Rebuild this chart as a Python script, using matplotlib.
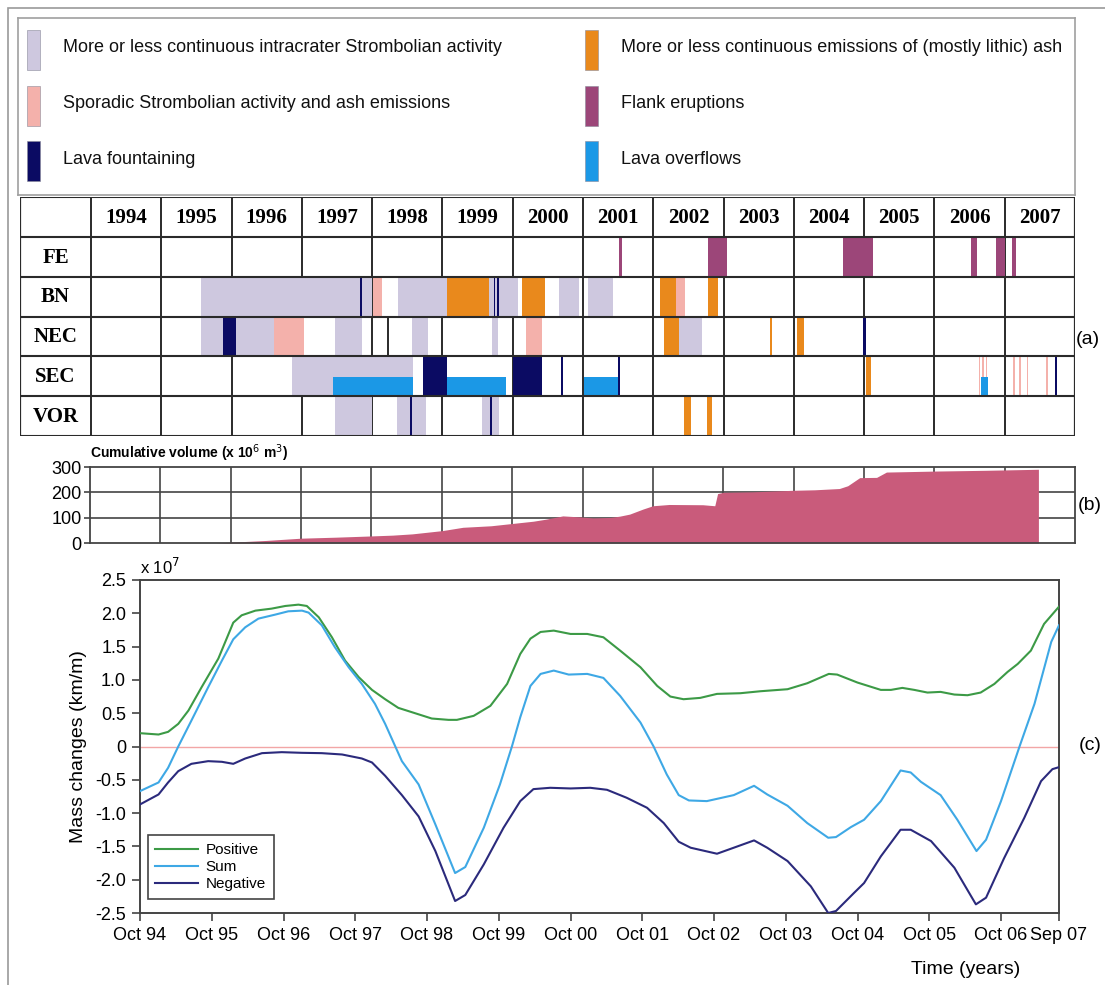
import matplotlib
matplotlib.use("Agg")
import matplotlib.pyplot as plt
from matplotlib.patches import Rectangle

# categories of volcanic activity
kinds = ["strombolian", "ash", "sporadic", "flank", "fountain", "overflow"]
kind_labels = {
    "strombolian": "More or less continuous intracrater Strombolian activity",
    "ash": "More or less continuous emissions of (mostly lithic) ash",
    "sporadic": "Sporadic Strombolian activity and ash emissions",
    "flank": "Flank eruptions",
    "fountain": "Lava fountaining",
    "overflow": "Lava overflows",
}
kind_colors = {
    "strombolian": "#cec8df",
    "ash": "#e9891c",
    "sporadic": "#f4b1ab",
    "flank": "#9c4679",
    "fountain": "#0b0b63",
    "overflow": "#1b98e6",
}

years = list(range(1994, 2008))
vents = ["FE", "BN", "NEC", "SEC", "VOR"]

# activity periods per vent: (start year, end year, kind)
fe_events = [
    (2001.51, 2001.56, "flank"), (2002.78, 2003.05, "flank"), (2004.70, 2005.13, "flank"),
    (2006.52, 2006.61, "flank"), (2006.88, 2007.00, "flank"), (2007.11, 2007.16, "flank"),
]
bn_events = [
    (1995.57, 1998.00, "strombolian"), (1997.83, 1997.86, "fountain"), (1998.01, 1998.14, "sporadic"),
    (1998.37, 1999.07, "strombolian"), (1999.07, 1999.66, "ash"), (1999.66, 2000.07, "strombolian"),
    (1999.73, 1999.75, "fountain"), (1999.78, 1999.80, "fountain"), (2000.13, 2000.46, "ash"),
    (2000.66, 2000.94, "strombolian"), (2001.07, 2001.42, "strombolian"), (2002.09, 2002.32, "ash"),
    (2002.32, 2002.45, "sporadic"), (2002.78, 2002.92, "ash"),
]
nec_events = [
    (1995.57, 1995.88, "strombolian"), (1995.88, 1996.06, "fountain"), (1996.06, 1996.61, "strombolian"),
    (1996.61, 1997.03, "sporadic"), (1997.47, 1997.85, "strombolian"), (1998.57, 1998.80, "strombolian"),
    (1999.70, 1999.79, "strombolian"), (2000.19, 2000.41, "sporadic"), (2002.15, 2002.36, "ash"),
    (2002.36, 2002.69, "strombolian"), (2003.66, 2003.69, "ash"), (2004.05, 2004.14, "ash"),
    (2004.99, 2005.02, "fountain"),
]
sec_events = [
    (1996.86, 1998.58, "strombolian"), (1997.44, 1998.58, "overflow"), (1998.72, 1999.07, "fountain"),
    (1999.07, 1999.90, "overflow"), (2000.01, 2000.42, "fountain"), (2000.69, 2000.72, "fountain"),
    (2001.02, 2001.50, "overflow"), (2001.50, 2001.53, "fountain"), (2005.02, 2005.10, "ash"),
    (2006.63, 2006.65, "sporadic"), (2006.68, 2006.70, "sporadic"), (2006.73, 2006.75, "sporadic"),
    (2006.66, 2006.76, "overflow"), (2007.12, 2007.14, "sporadic"), (2007.21, 2007.23, "sporadic"),
    (2007.31, 2007.33, "sporadic"), (2007.59, 2007.61, "sporadic"), (2007.72, 2007.74, "fountain"),
]
vor_events = [
    (1997.47, 1998.00, "strombolian"), (1998.36, 1998.76, "strombolian"), (1998.54, 1998.57, "fountain"),
    (1999.57, 1999.80, "strombolian"), (1999.68, 1999.71, "fountain"), (2002.44, 2002.53, "ash"),
    (2002.77, 2002.84, "ash"),
]
events = [fe_events, bn_events, nec_events, sec_events, vor_events]

# cumulative erupted volume (x 10^6 m3)
vol_year = [1995.79, 1995.92, 1996.5, 1997.0, 1997.5, 1997.91, 1998.3, 1998.58, 1999.01, 1999.3,
            1999.7, 2000.0, 2000.3, 2000.48, 2000.72, 2000.96, 2001.15, 2001.4, 2001.53, 2001.67,
            2001.86, 2002.0, 2002.23, 2002.71, 2002.88, 2002.92, 2003.0, 2003.42, 2003.99, 2004.3,
            2004.65, 2004.77, 2004.94, 2005.18, 2005.32, 2006.03, 2006.74, 2007.48]
vol = [0, 2, 10, 19, 23, 27, 31, 36, 49, 62, 68, 77, 86, 94, 107, 103, 99, 101, 106, 114,
       134, 147, 152, 151, 147, 195, 200, 202, 208, 210, 215, 226, 258, 259, 280, 284, 287, 291]

# mass changes (x 10^7 km/m), time in months since Oct 1994
pos_m = [0, 3.1, 4.7, 6.4, 8.1, 10.3, 13.1, 15.6, 17, 19.3, 22, 24.3, 26.5, 27.9, 29.9, 32.1,
         34.3, 36.6, 38.8, 41, 43.2, 46, 48.8, 51.6, 53, 55.8, 58.6, 61.4, 63.6, 65.3, 67, 69.2,
         72, 74.8, 77.5, 80.3, 83.7, 86.5, 88.7, 90.9, 93.7, 96.5, 100.4, 103.8, 108.3, 111.6,
         115.2, 116.6, 120, 123.9, 125.6, 127.5, 129.5, 131.7, 133.9, 136.2, 138.4, 140.6,
         142.9, 145.1, 146.8, 149, 151.2, 153.7]
pos_v = [0.20, 0.18, 0.22, 0.34, 0.54, 0.89, 1.32, 1.86, 1.97, 2.04, 2.07, 2.11, 2.13, 2.11,
         1.94, 1.64, 1.29, 1.04, 0.85, 0.71, 0.58, 0.50, 0.42, 0.40, 0.40, 0.46, 0.61, 0.94,
         1.39, 1.62, 1.72, 1.74, 1.69, 1.69, 1.64, 1.44, 1.19, 0.91, 0.75, 0.71, 0.73, 0.79,
         0.80, 0.83, 0.86, 0.95, 1.09, 1.08, 0.96, 0.85, 0.85, 0.88, 0.85, 0.81, 0.82, 0.78,
         0.77, 0.81, 0.94, 1.12, 1.24, 1.44, 1.84, 2.10]
sum_m = [0, 3.1, 4.7, 6.4, 8.6, 11.4, 13.7, 15.6, 17.6, 19.8, 22.6, 24.8, 27.1, 28.2, 30.4,
         32.6, 34.9, 37.1, 39.3, 41, 42.7, 43.8, 46.6, 49.4, 52.7, 54.4, 57.5, 60.2, 62.2, 63.6,
         65.3, 67, 69.2, 71.7, 74.8, 77.5, 80.3, 83.7, 85.9, 88.1, 90.1, 91.8, 94.8, 99.3, 102.7,
         104.9, 108.3, 111.6, 115.1, 116.4, 118.9, 121.1, 123.9, 127.2, 128.9, 130.6, 133.9,
         136.7, 139.9, 141.5, 144, 147.1, 149.6, 152.4, 153.7]
sum_v = [-0.67, -0.54, -0.32, 0.0, 0.39, 0.89, 1.29, 1.61, 1.79, 1.92, 1.98, 2.03, 2.04, 2.01,
         1.82, 1.49, 1.19, 0.94, 0.64, 0.34, 0.0, -0.22, -0.57, -1.17, -1.90, -1.81, -1.22,
         -0.57, 0.0, 0.44, 0.91, 1.09, 1.14, 1.08, 1.09, 1.03, 0.76, 0.36, 0.0, -0.42, -0.73,
         -0.81, -0.82, -0.73, -0.59, -0.72, -0.89, -1.15, -1.37, -1.36, -1.21, -1.10, -0.82,
         -0.36, -0.39, -0.53, -0.73, -1.10, -1.57, -1.40, -0.82, 0.0, 0.64, 1.57, 1.82]
neg_m = [0, 3.1, 4.7, 6.4, 8.6, 11.4, 13.7, 15.6, 17.6, 20.4, 23.7, 27.1, 30.4, 33.8, 37.1,
         38.8, 41, 43.8, 46.6, 49.4, 52.7, 54.4, 57.5, 60.8, 63.6, 65.8, 68.6, 72, 75.3, 78.1,
         81.4, 84.8, 87.6, 90.1, 92.1, 96.5, 99.3, 102.7, 104.9, 108.3, 112.2, 115.1, 116.4,
         119.4, 121.1, 123.9, 127.2, 128.9, 132.3, 136.2, 139.8, 141.5, 144.5, 147.9, 150.7,
         152.6, 153.7]
neg_v = [-0.87, -0.72, -0.54, -0.37, -0.26, -0.22, -0.23, -0.26, -0.18, -0.10, -0.085, -0.095,
         -0.10, -0.12, -0.18, -0.24, -0.44, -0.73, -1.05, -1.57, -2.32, -2.23, -1.77, -1.22,
         -0.82, -0.64, -0.62, -0.63, -0.62, -0.65, -0.77, -0.92, -1.15, -1.43, -1.52, -1.61,
         -1.52, -1.41, -1.52, -1.72, -2.10, -2.50, -2.47, -2.20, -2.05, -1.65, -1.25, -1.25,
         -1.42, -1.82, -2.37, -2.27, -1.68, -1.07, -0.52, -0.34, -0.31]

month_ticks = [0, 12, 24, 36, 48, 60, 72, 84, 96, 108, 120, 132, 144, 153.7]
month_labels = ["Oct 94", "Oct 95", "Oct 96", "Oct 97", "Oct 98", "Oct 99", "Oct 00",
                "Oct 01", "Oct 02", "Oct 03", "Oct 04", "Oct 05", "Oct 06", "Sep 07"]

SANS = ["Liberation Sans", "DejaVu Sans"]
SERIF = ["Liberation Serif", "DejaVu Serif"]
plt.rcParams["font.family"] = SANS

W, H = 1105, 985
fig = plt.figure(figsize=(W / 100, H / 100), dpi=100)


def px_axes(x0, y0, x1, y1):
    return fig.add_axes([x0 / W, 1 - y1 / H, (x1 - x0) / W, (y1 - y0) / H])


# thin frame around the whole figure
fig.patches.append(Rectangle((8 / W, -0.1), 1.2, 1 - 8 / H + 0.1, transform=fig.transFigure,
                             fill=False, edgecolor="#9a9a9a", lw=1.2))

# ---- key ----
ax_key = px_axes(18, 18, 1075, 195)
ax_key.set_xlim(18, 1075)
ax_key.set_ylim(195, 18)
ax_key.set_xticks([])
ax_key.set_yticks([])
for s in ax_key.spines.values():
    s.set_color("#a0a0a0")
    s.set_linewidth(1.2)
key_cols = [["strombolian", "sporadic", "fountain"], ["ash", "flank", "overflow"]]
for col, col_x in zip(key_cols, [27, 585]):
    for j, k in enumerate(col):
        yc = 50 + j * 55.5
        ax_key.add_patch(Rectangle((col_x, yc - 20), 13, 40, facecolor=kind_colors[k],
                                   edgecolor="#8a8a9a", lw=0.4))
        ax_key.text(col_x + 36, yc - 2, kind_labels[k], fontsize=13,
                    va="center", ha="left", color="#111111")

# ---- (a) activity table ----
ax_t = px_axes(20, 197, 1075, 436)
x_left = 1994 - 71 / 70.3
ax_t.set_xlim(x_left, 2008)
ax_t.set_ylim(6, 0)
ax_t.axis("off")
for i, row in enumerate(events):
    for start, end, k in row:
        if k == "overflow":
            h = 0.47
            bottom = i + 2 - h
        else:
            h = 1.0
            bottom = i + 1
        ax_t.bar(start, h, width=end - start, bottom=bottom, align="edge",
                 color=kind_colors[k], linewidth=0, zorder=2)
line_c = "#2a2a2a"
ax_t.vlines(years + [2008], 0, 6, color=line_c, lw=1.4, zorder=1)
ax_t.vlines([x_left], 0, 6, color=line_c, lw=1.6, zorder=3)
ax_t.vlines([2008], 0, 6, color=line_c, lw=1.6, zorder=3)
ax_t.vlines([1998.23], 3, 4, color=line_c, lw=1.4, zorder=1)
ax_t.hlines(range(7), x_left, 2008, color=line_c, lw=1.5, zorder=3)
for y in years:
    ax_t.text(y + 0.5, 0.52, str(y), ha="center", va="center", fontsize=15,
              fontweight="bold", family=SERIF)
for i, v in enumerate(vents):
    ax_t.text((x_left + 1994) / 2, i + 1.52, v, ha="center", va="center", fontsize=15,
              fontweight="bold", family=SERIF)
fig.text(1088 / W, 1 - 340 / H, "(a)", fontsize=14, ha="center", va="center")

# ---- (b) cumulative volume ----
ax_b = px_axes(90, 467, 1075, 543)
ax_b.fill_between(vol_year, vol, 0, color="#c95b7b", linewidth=0, zorder=2)
ax_b.set_xlim(1994, 2008)
ax_b.set_ylim(0, 300)
ax_b.set_xticks([])
ax_b.set_yticks([0, 100, 200, 300])
ax_b.tick_params(axis="y", length=4, width=1.2, color="#444444", labelsize=13, pad=2)
ax_b.vlines(years[1:], 0, 300, color="#444444", lw=1.2, zorder=1)
ax_b.hlines([100, 200], 1994, 2008, color="#444444", lw=1.2, zorder=1)
for s in ax_b.spines.values():
    s.set_color("#444444")
    s.set_linewidth(1.3)
ax_b.text(0.0, 1.04, "Cumulative volume (x 10$^6$ m$^3$)", transform=ax_b.transAxes,
          fontsize=10, fontweight="bold", ha="left", va="bottom")
fig.text(1090 / W, 1 - 505 / H, "(b)", fontsize=14, ha="center", va="center")

# ---- (c) mass changes ----
ax_c = px_axes(140, 580, 1059, 913)
ax_c.axhline(0, color="#f2a6a6", lw=1.0, zorder=1)
ax_c.plot(pos_m, pos_v, color="#3c9a46", lw=1.5, label="Positive", zorder=3)
ax_c.plot(sum_m, sum_v, color="#3ea8e5", lw=1.5, label="Sum", zorder=3)
ax_c.plot(neg_m, neg_v, color="#2b2a7c", lw=1.5, label="Negative", zorder=3)
ax_c.set_xlim(0, 153.7)
ax_c.set_ylim(-2.5, 2.5)
ax_c.set_xticks(month_ticks)
ax_c.set_xticklabels(month_labels)
yt = [-2.5, -2.0, -1.5, -1.0, -0.5, 0, 0.5, 1.0, 1.5, 2.0, 2.5]
ax_c.set_yticks(yt)
ax_c.set_yticklabels(["0" if v == 0 else f"{v:.1f}" for v in yt])
ax_c.tick_params(length=6, width=1.2, color="#444444", labelsize=13, pad=4)
for s in ax_c.spines.values():
    s.set_color("#444444")
    s.set_linewidth(1.4)
ax_c.set_ylabel("Mass changes (km/m)", fontsize=14, labelpad=6)
ax_c.text(0.0, 1.01, "x 10$^7$", transform=ax_c.transAxes, fontsize=12,
          ha="left", va="bottom")
leg = ax_c.legend(loc="lower left", bbox_to_anchor=(0.0, 0.02), fontsize=11,
                  frameon=True, fancybox=False, framealpha=1, handlelength=2.8,
                  labelspacing=0.2, borderpad=0.5, handletextpad=0.5)
leg.get_frame().set_edgecolor("#444444")
leg.get_frame().set_linewidth(1.2)
fig.text(1090 / W, 1 - 746 / H, "(c)", fontsize=14, ha="center", va="center")
fig.text(1020 / W, 1 - 970 / H, "Time (years)", fontsize=14, ha="right", va="center")

fig.savefig("out.png", dpi=100)
